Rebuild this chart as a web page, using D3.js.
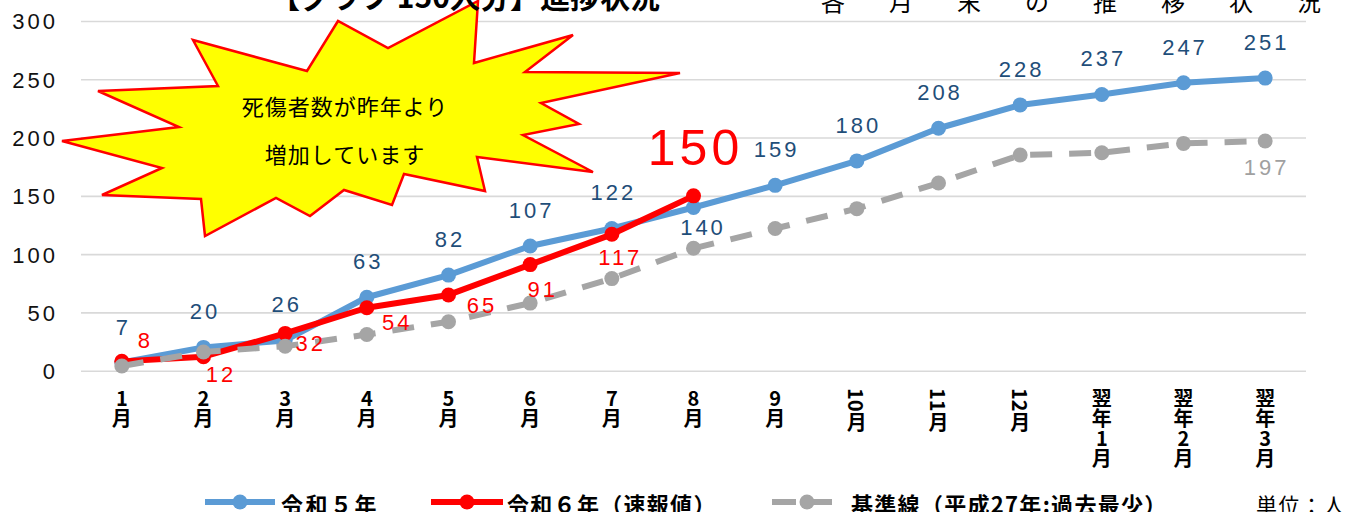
<!DOCTYPE html>
<html><head><meta charset="utf-8">
<script src="https://cdn.jsdelivr.net/npm/d3@7"></script>
<style>
html,body{margin:0;padding:0;background:#fff;overflow:hidden}
svg{display:block}
.vlab{writing-mode:vertical-rl;text-orientation:mixed}
.up{text-orientation:upright}
</style></head>
<body>
<svg id="chart" width="1356" height="512"></svg>
<script>
// ---- data ----
const categories = ["1月","2月","3月","4月","5月","6月","7月","8月","9月","10月","11月","12月","翌年1月","翌年2月","翌年3月"];
const seriesR5 = [7,20,26,63,82,107,122,140,159,180,208,228,237,247,251];
const seriesR6 = [8,12,32,54,65,91,117,150];
const seriesBase = [4,16,21,31,42,58,79,105,122,139,161,185,187,195,197];
const yTicks = [0,50,100,150,200,250,300];
const legendLabels = ["令和５年","令和６年（速報値）","基準線（平成27年:過去最少）"];
const unitLabel = "単位：人";
const calloutLines = ["死傷者数が昨年より","増加しています"];
const titleLeft = "【グラフ 150人分】進捗状況";
const titleRight = "各月末の推移状況";

// ---- styling / layout ----
const cBlue = "#5B9BD5", cRed = "#FF0000", cGray = "#A5A5A5", cBlueLbl = "#1F4E79";
const numFont = "'Liberation Sans', Arial, sans-serif";
const jpFont = "'Noto Sans CJK JP', 'Noto Sans', sans-serif";

const svg = d3.select("#chart");
const x = d3.scaleBand().domain(categories).range([81, 1306]).padding(0);
const xc = c => x(c) + x.bandwidth() / 2;
const y = d3.scaleLinear().domain([0, 300]).range([370.7, 21]);

// gridlines + y tick labels
const yAxis = d3.axisLeft(y).tickValues(yTicks).tickSize(-(1306 - 81)).tickFormat(d => d);
const gAxis = svg.append("g").attr("transform", "translate(81,0)").call(yAxis);
gAxis.select(".domain").remove();
gAxis.selectAll(".tick line").attr("stroke", "#D9D9D9").attr("stroke-width", 1.6);
gAxis.selectAll(".tick text")
  .attr("x", -23).attr("dy", "0.36em")
  .attr("fill", "#111").attr("font-family", numFont).attr("font-size", 22)
  .attr("letter-spacing", 3).attr("text-anchor", "end");

// x labels: vertical writing, single digits upright, multi-digit numbers sideways
const gx = svg.append("g");
categories.forEach(c => {
  const t = gx.append("text").attr("class", "vlab")
    .attr("x", xc(c)).attr("y", 388)
    .attr("font-family", jpFont).attr("font-weight", "bold").attr("font-size", 20)
    .attr("fill", "#000");
  c.match(/\d+|\D+/g).forEach(tok => {
    const ts = t.append("tspan").text(tok);
    if (/^\d$/.test(tok)) ts.attr("class", "up");
  });
});

// lines
const line = d3.line().x((d, i) => xc(categories[i])).y(d => y(d));
function drawSeries(vals, color, dash) {
  const g = svg.append("g");
  g.append("path").datum(vals).attr("d", line)
    .attr("fill", "none").attr("stroke", color).attr("stroke-width", 6)
    .attr("stroke-linejoin", "round")
    .attr("stroke-dasharray", dash || null);
  g.selectAll("circle").data(vals).join("circle")
    .attr("cx", (d, i) => xc(categories[i])).attr("cy", d => y(d)).attr("r", 7.5)
    .attr("fill", color);
}
drawSeries(seriesR5, cBlue);
drawSeries(seriesR6, cRed);
drawSeries(seriesBase, cGray, "22,17");

// data labels
const lblStyle = sel => sel.attr("font-family", numFont).attr("font-size", 22)
  .attr("letter-spacing", 3).attr("text-anchor", "middle");
const blueOffsets = seriesR5.map((d, i) => i === 7 ? [8, 27] : [0, -28]);
svg.append("g").selectAll("text").data(seriesR5).join("text")
  .text(d => d)
  .attr("x", (d, i) => xc(categories[i]) + blueOffsets[i][0] + 1.5)
  .attr("y", (d, i) => y(d) + blueOffsets[i][1])
  .attr("fill", cBlueLbl).call(lblStyle);

const redOffsets = [[22, -13], [16, 25], [24, 18], [29, 22], [32, 18], [11, 32], [7, 31], [0, -31]];
svg.append("g").selectAll("text").data(seriesR6).join("text")
  .text(d => d)
  .attr("x", (d, i) => xc(categories[i]) + redOffsets[i][0] + 1.5)
  .attr("y", (d, i) => y(d) + redOffsets[i][1])
  .attr("fill", cRed).call(lblStyle)
  .filter((d, i) => i === seriesR6.length - 1)
  .attr("font-size", 50).attr("letter-spacing", 4).attr("x", xc(categories[seriesR6.length - 1]) + 2);

const lastB = seriesBase.length - 1;
svg.append("text").text(seriesBase[lastB])
  .attr("x", xc(categories[lastB]) + 1.5).attr("y", y(seriesBase[lastB]) + 34)
  .attr("fill", "#A0A0A0").call(lblStyle);

// starburst callout
const star = [[193,40],[307,71],[338,21],[388,48],[478,1],[474,63],[573,35],[525,72],[680,73],[541,103],[579,124],[523,135],[593,172],[477,157],[485,191],[404,174],[392,205],[344,190],[310,216],[276,198],[205,236],[201,199],[102,195],[162,168],[62,141],[179,127],[98,91],[218,86]];
svg.append("polygon").attr("points", star.map(p => p.join(",")).join(" "))
  .attr("fill", "#FFFF00").attr("stroke", "#FF0000").attr("stroke-width", 2.5).attr("stroke-linejoin", "miter");
svg.append("g").selectAll("text").data(calloutLines).join("text")
  .text(d => d).attr("x", 345).attr("y", (d, i) => 115 + i * 48)
  .attr("text-anchor", "middle").attr("font-family", jpFont).attr("font-size", 22)
  .attr("letter-spacing", 1).attr("fill", "#000");

// legend
const lg = svg.append("g");
const legendItems = [
  {x0: 205, x1: 275, color: cBlue, dash: null, tx: 281},
  {x0: 431, x1: 503, color: cRed, dash: null, tx: 507},
  {x0: 772, x1: 842, color: cGray, dash: "24,12", tx: 851}
];
legendItems.forEach((it, i) => {
  lg.append("line").attr("x1", it.x0).attr("x2", it.x1).attr("y1", 502).attr("y2", 502)
    .attr("stroke", it.color).attr("stroke-width", 6).attr("stroke-dasharray", it.dash);
  lg.append("circle").attr("cx", (it.x0 + it.x1) / 2).attr("cy", 502).attr("r", 7.5).attr("fill", it.color);
  lg.append("text").text(legendLabels[i]).attr("x", it.tx).attr("y", 513)
    .attr("font-family", jpFont).attr("font-weight", "bold").attr("font-size", 22)
    .attr("letter-spacing", i === 0 ? 2.5 : 1.3).attr("fill", "#000");
});
lg.append("text").text(unitLabel).attr("x", 1256).attr("y", 513)
  .attr("font-family", jpFont).attr("font-size", 21).attr("letter-spacing", 1.5).attr("fill", "#000");

// titles (clipped at top, as in the source)
svg.append("text").text(titleLeft).attr("x", 270).attr("y", 8)
  .attr("font-family", jpFont).attr("font-weight", "bold").attr("font-size", 30).attr("fill", "#000");
svg.append("text").text(titleRight).attr("x", 821).attr("y", 11)
  .attr("font-family", jpFont).attr("font-size", 24).attr("letter-spacing", 44).attr("fill", "#000");
</script>
</body></html>
